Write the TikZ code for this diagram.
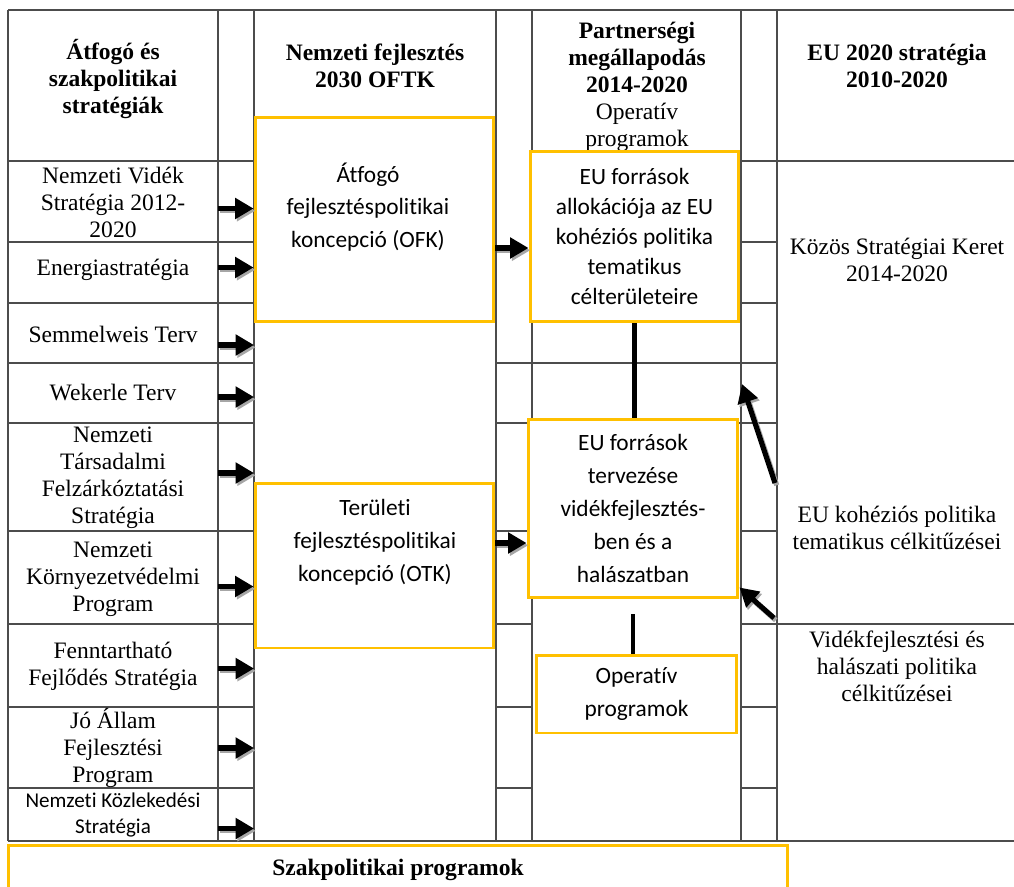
\documentclass[tikz,border=0pt]{standalone}
\usepackage{fontspec}
\setmainfont{Liberation Serif}
\newfontfamily\calibri[Ligatures=NoCommon]{Carlito}
\usetikzlibrary{arrows.meta,positioning}
\definecolor{gold}{HTML}{FFC000}

\begin{document}
\begin{tikzpicture}[x=0.02cm,y=-0.02cm,
    grid/.style={draw=black!70,line width=0.6pt},
    obox/.style={draw=gold,line width=1.7pt,fill=white,inner sep=0pt,align=center,font=\calibri\fontsize{13.3}{18.7}\selectfont},
    cell/.style={minimum width=4.2cm,inner sep=0pt,align=center,font=\fontsize{13.4}{15.4}\selectfont},
    head/.style={inner sep=0pt,align=center,font=\bfseries\fontsize{13.4}{15.4}\selectfont},
    sans/.style={inner sep=0pt,align=center,font=\calibri\fontsize{13.3}{18.7}\selectfont},
    bigarrow/.style={line width=2.9pt,-{Triangle[length=10.5pt,width=11.5pt]},
        preaction={draw=black!35,line width=2.9pt,-{Triangle[length=10.5pt,width=11.5pt]},transform canvas={shift={(1pt,-1.3pt)}}}},
    bar/.style={line width=2.4pt}]
    \useasboundingbox (0,0) rectangle (1014,886);
    % table lines
    \draw[grid] (8,10) -- (1014,10);
    \draw[grid] (8,841) -- (1014,841);
    \draw[grid] (8,10) -- (8,841);
    \draw[grid] (218,10) -- (218,841);
    \draw[grid] (254,10) -- (254,841);
    \draw[grid] (496,10) -- (496,841);
    \draw[grid] (532,10) -- (532,841);
    \draw[grid] (741,10) -- (741,841);
    \draw[grid] (777,10) -- (777,841);
    \draw[grid] (8,161) -- (254,161);
    \draw[grid] (741,161) -- (1014,161);
    \draw[grid] (8,242) -- (254,242);
    \draw[grid] (741,242) -- (777,242);
    \draw[grid] (8,303) -- (254,303);
    \draw[grid] (741,303) -- (777,303);
    \draw[grid] (8,363) -- (254,363);
    \draw[grid] (496,363) -- (777,363);
    \draw[grid] (8,423) -- (254,423);
    \draw[grid] (496,423) -- (777,423);
    \draw[grid] (8,531) -- (254,531);
    \draw[grid] (496,531) -- (532,531);
    \draw[grid] (741,531) -- (777,531);
    \draw[grid] (8,624) -- (254,624);
    \draw[grid] (496,624) -- (532,624);
    \draw[grid] (741,624) -- (1014,624);
    \draw[grid] (8,707) -- (254,707);
    \draw[grid] (496,707) -- (532,707);
    \draw[grid] (741,707) -- (777,707);
    \draw[grid] (8,788) -- (254,788);
    \draw[grid] (496,788) -- (532,788);
    \draw[grid] (741,788) -- (777,788);
    \coordinate (c2) at (254,0);
    % headers
    \node[head] (h1) at (113,79) {Átfogó és\\szakpolitikai\\stratégiák};
    \node[head] (h2) at (375,66) {Nemzeti fejlesztés\\2030 OFTK};
    \node[head,font=\fontsize{13.4}{15.4}\selectfont] (h3) at (637,87) {\textbf{Partnerségi}\\\textbf{megállapodás}\\\textbf{2014-2020}\\Operatív\\programok};
    \node[head] (h4) at (897,66) {EU 2020 stratégia\\2010-2020};
    % left column
    \node[cell] (nvs) at (113,202) {Nemzeti Vidék\\Stratégia 2012-\\2020};
    \node[cell] (ener) at (113,270) {Energiastratégia};
    \node[cell] (sem) at (113,334) {Semmelweis Terv};
    \node[cell] (wek) at (113,393) {Wekerle Terv};
    \node[cell] (tars) at (113,478) {Nemzeti\\Társadalmi\\Felzárkóztatási\\Stratégia};
    \node[cell] (korny) at (113,579) {Nemzeti\\Környezetvédelmi\\Program};
    \node[cell] (fennt) at (113,666) {Fenntartható\\Fejlődés Stratégia};
    \node[cell] (joall) at (113,748) {Jó Állam\\Fejlesztési\\Program};
    \node[cell,font=\calibri\fontsize{12}{14.7}\selectfont] (kozl) at (113,815) {Nemzeti Közlekedési\\Stratégia};
    % right column
    \node[cell] (ksk) at (897,260) {Közös Stratégiai Keret\\2014-2020};
    \node[cell] (koh) at (897,528) {EU kohéziós politika\\tematikus célkitűzései};
    \node[cell] (vhp) at (897,666) {Vidékfejlesztési és\\halászati politika\\célkitűzései};
    % orange boxes
    \node[obox,minimum width=4.78cm,minimum height=4.1cm] (ofk) at (374.5,219.5) {};
    \node[sans] (ofkt) at (368,207) {Átfogó\\fejlesztéspolitikai\\koncepció (OFK)};
    \node[obox,minimum width=4.18cm,minimum height=3.42cm,font=\calibri\fontsize{13.3}{17.1}\selectfont] (alloc) at (634.5,236.5) {EU források\\allokációja az EU\\kohéziós politika\\tematikus\\célterületeire};
    \node[obox,minimum width=4.78cm,minimum height=3.3cm] (otk) at (374.5,565.5) {};
    \node[sans] (otkt) at (375,542) {Területi\\fejlesztéspolitikai\\koncepció (OTK)};
    \node[obox,minimum width=4.2cm,minimum height=3.58cm] (tervez) at (633,508.5) {EU források\\tervezése\\vidékfejlesztés-\\ben és a\\halászatban};
    \node[obox,minimum width=4.02cm,minimum height=1.56cm] (oper) at (636.5,694) {Operatív\\programok};
    \node[obox,minimum width=15.6cm,minimum height=1cm,font=\bfseries\fontsize{13.4}{15.4}\selectfont] (szak) at (398,870) {Szakpolitikai programok};
    % arrows
    \draw[bigarrow] ([yshift=-0.13cm]nvs.east) -- ([yshift=-0.13cm]nvs.east -| ofk.west);
    \draw[bigarrow] ([yshift=0.05cm]ener.east) -- ([yshift=0.05cm]ener.east -| ofk.west);
    \draw[bigarrow] ([yshift=-0.22cm]sem.east) -- ([yshift=-0.22cm]sem.east -| c2);
    \draw[bigarrow] ([yshift=-0.08cm]wek.east) -- ([yshift=-0.08cm]wek.east -| c2);
    \draw[bigarrow] ([yshift=0.1cm]tars.east) -- ([yshift=0.1cm]tars.east -| c2);
    \draw[bigarrow] ([yshift=-0.15cm]korny.east) -- ([yshift=-0.15cm]korny.east -| otk.west);
    \draw[bigarrow] ([yshift=-0.05cm]fennt.east) -- ([yshift=-0.05cm]fennt.east -| c2);
    \draw[bigarrow] (joall.east) -- (joall.east -| c2);
    \draw[bigarrow] ([yshift=-0.27cm]kozl.east) -- ([yshift=-0.27cm]kozl.east -| c2);
    \draw[bigarrow] ([yshift=-0.57cm]ofk.east) -- ([yshift=-0.57cm]ofk.east -| alloc.west);
    \draw[bigarrow] ([yshift=0.45cm]otk.east) -- ([yshift=0.45cm]otk.east -| tervez.west);
    \draw[bar] (alloc.south) -- (alloc.south |- tervez.north);
    \draw[bar] ([yshift=-0.3cm]tervez.south) -- (tervez.south |- oper.north);
    \coordinate (kohtail) at (775,483);
    \coordinate (kohtip) at (742,384);
    \draw[bigarrow] (kohtail) -- (kohtip);
    \coordinate (vhptail) at (774,618);
    \draw[bigarrow] (vhptail) -- ([yshift=0.24cm]tervez.south east);
\end{tikzpicture}
\end{document}
